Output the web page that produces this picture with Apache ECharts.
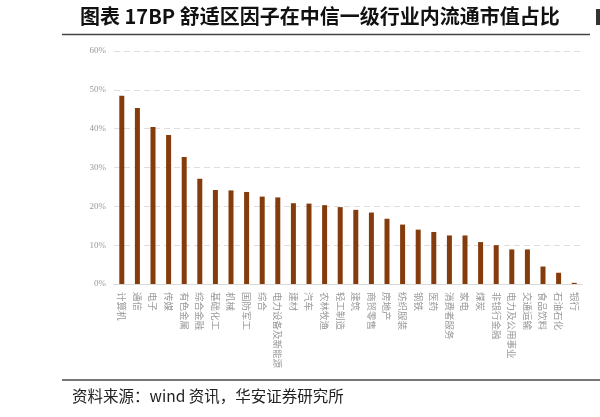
<!DOCTYPE html>
<html>
<head>
<meta charset="utf-8">
<script src="https://cdn.jsdelivr.net/npm/echarts@6/dist/echarts.min.js"></script>
<style>
  html, body { margin: 0; padding: 0; background: #fff; }
  #main { width: 600px; height: 417px; }
</style>
</head>
<body>
<div id="main"></div>
<script>
// 中信一级行业
var industries = ['计算机', '通信', '电子', '传媒', '有色金属', '综合金融', '基础化工', '机械', '国防军工', '综合',
  '电力设备及新能源', '建材', '汽车', '农林牧渔', '轻工制造', '建筑', '商贸零售', '房地产', '纺织服装', '钢铁',
  '医药', '消费者服务', '家电', '煤炭', '非银行金融', '电力及公用事业', '交通运输', '食品饮料', '石油石化', '银行'];
// 流通市值占比 (%)
var shares = [48.5, 45.3, 40.4, 38.4, 32.7, 27.1, 24.2, 24.1, 23.7, 22.5,
  22.3, 20.8, 20.7, 20.3, 19.8, 19.1, 18.4, 16.8, 15.3, 14.0,
  13.4, 12.5, 12.5, 10.8, 10.0, 8.9, 8.9, 4.5, 2.9, 0.3];
var yTicks = [0, 10, 20, 30, 40, 50, 60];

var titleText = '图表 17BP 舒适区因子在中信一级行业内流通市值占比';
var sourceText = '资料来源：wind 资讯，华安证券研究所';

var myChart = echarts.init(document.getElementById('main'));
myChart.setOption({
  animation: false,
  backgroundColor: '#fff',
  grid: { left: 114, right: 18, top: 51, bottom: 133 },
  xAxis: {
    type: 'category',
    data: industries,
    axisLine: { lineStyle: { color: '#d9d9d9', width: 1 } },
    axisTick: { show: false },
    axisLabel: {
      rotate: -90,
      interval: 0,
      margin: 8,
      color: '#999',
      fontSize: 9.5,
      fontFamily: 'Noto Sans CJK SC'
    }
  },
  yAxis: {
    type: 'value',
    min: yTicks[0],
    max: yTicks[yTicks.length - 1],
    interval: 10,
    axisLine: { show: false },
    axisTick: { show: false },
    axisLabel: {
      formatter: '{value}%',
      color: '#999',
      fontSize: 9,
      margin: 8,
      fontFamily: 'Liberation Serif'
    },
    splitLine: { lineStyle: { color: '#dedede', type: [6, 4], width: 1 } }
  },
  series: [{
    type: 'bar',
    data: shares,
    barWidth: 5,
    itemStyle: { color: '#843c0c' }
  }],
  graphic: [
    {
      type: 'text', left: 80, top: 6,
      style: { text: titleText, fontSize: 20, fontWeight: 'bold', fill: '#111', fontFamily: 'Noto Sans CJK SC' }
    },
    {
      type: 'rect', shape: { x: 596, y: 9, width: 4, height: 16 },
      style: { fill: '#333' }
    },
    {
      type: 'line', shape: { x1: 62, y1: 34.5, x2: 590, y2: 34.5 },
      style: { stroke: '#444', lineWidth: 1.5 }
    },
    {
      type: 'line', shape: { x1: 62, y1: 380, x2: 600, y2: 380 },
      style: { stroke: '#777', lineWidth: 2 }
    },
    {
      type: 'text', left: 72, top: 388,
      style: { text: sourceText, fontSize: 15.5, fill: '#222', fontFamily: 'Noto Sans CJK SC' }
    }
  ]
});
</script>
</body>
</html>
